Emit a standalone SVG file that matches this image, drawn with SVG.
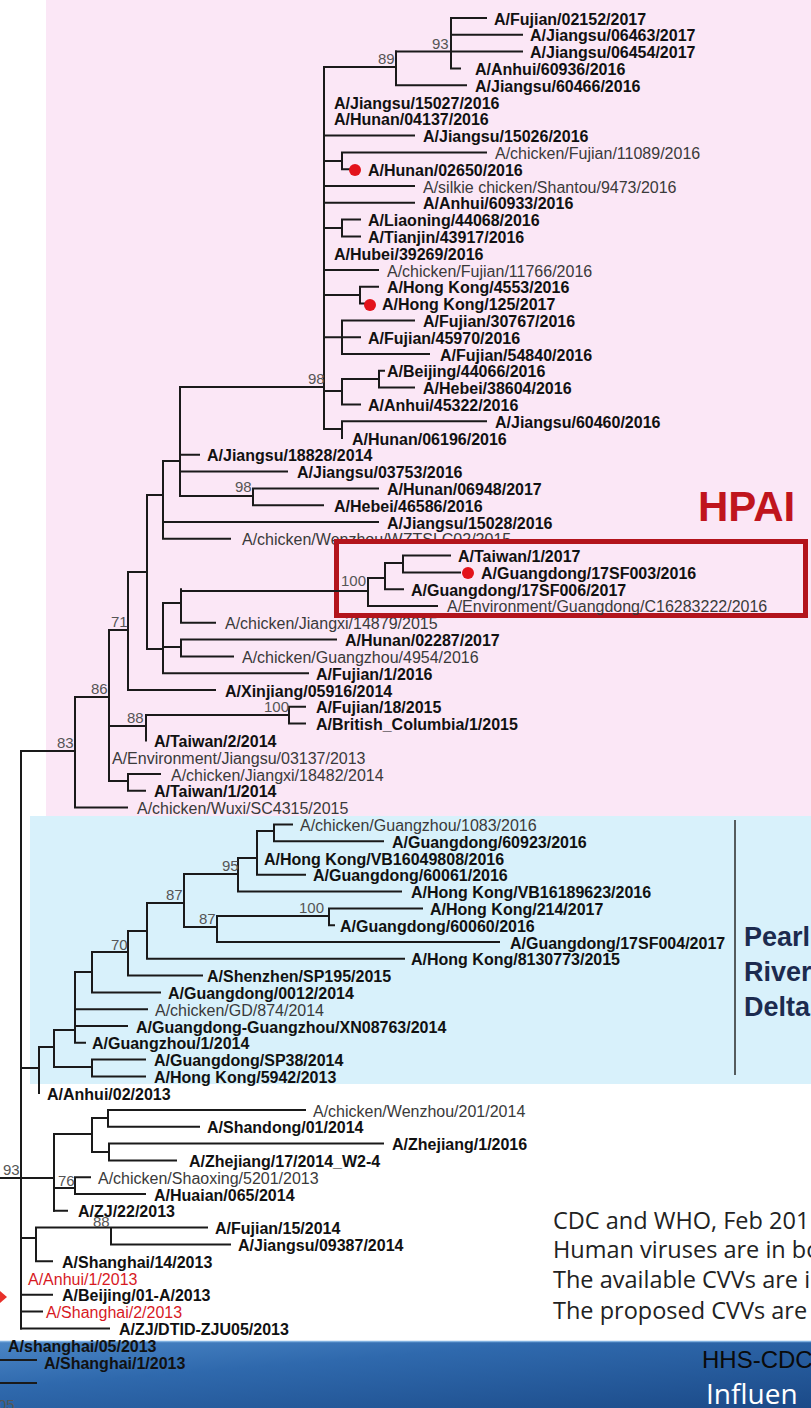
<svg xmlns="http://www.w3.org/2000/svg" width="811" height="1408" viewBox="0 0 811 1408">
<defs>
<linearGradient id="bannerFill" x1="0" y1="0" x2="1" y2="1">
<stop offset="0" stop-color="#4b86c6"/>
<stop offset="0.35" stop-color="#2f69ad"/>
<stop offset="1" stop-color="#1b4a88"/>
</linearGradient>
<style>
.b{font-family:"Liberation Sans",Arial,sans-serif;font-size:16px;font-weight:bold;fill:#111}
.n{font-family:"Liberation Sans",Arial,sans-serif;font-size:16px;fill:#3a3a3a}
.r{font-family:"Liberation Sans",Arial,sans-serif;font-size:16px;fill:#d7191f}
.bs{font-family:"Liberation Sans",Arial,sans-serif;font-size:15px;fill:#555}
.br{fill:none;stroke:#1a1a1a;stroke-width:2;stroke-linecap:square}
.dot{fill:#e3131b}
.note{font-family:"Open Sans","Noto Sans",sans-serif;font-size:23.5px;fill:#222}
.region{font-family:"Liberation Sans",Arial,sans-serif;font-size:27px;font-weight:bold;fill:#1c2b4f}
</style>
</defs>

<!-- backgrounds -->
<rect x="0" y="0" width="811" height="1408" fill="#ffffff"/>
<rect x="46" y="0" width="765" height="816" fill="#fbe7f6"/>
<rect x="30" y="816" width="781" height="268" fill="#d8f1fb"/>
<rect x="0" y="1341" width="811" height="67" fill="url(#bannerFill)"/>
<line x1="0" y1="1341.5" x2="811" y2="1341.5" stroke="#7fb0e0" stroke-width="1.5"/>

<!-- tree branches -->
<g id="branches" class="br">
<path d="M396 51.6H451M451 18V68.4M451 18H486M451 34.8H522M451 51.6H522M451 68.4H460"/>
<path d="M324 67H396M396 51.6V85.2M396 85.2H466"/>
<path d="M180 387H324M324 67V429"/>
<path d="M324 135.6H414"/>
<path d="M324 161H342M342 152.4V169.2M342 152.4H486M342 169.2H350"/>
<path d="M324 186H414M324 202.8H414"/>
<path d="M324 228H342M342 219.6V236.4M342 219.6H360M342 236.4H360"/>
<path d="M324 270H378"/>
<path d="M324 295H360M360 286.8V303.6M360 286.8H378M360 303.6H364"/>
<path d="M324 337.2H342M342 320.4V354M342 320.4H414M342 337.2H360M342 354H429"/>
<path d="M324 391H342M342 379V404.4M342 379H379M379 370.8V387.6M379 370.8H384M379 387.6H414M342 404.4H360"/>
<path d="M324 429H342M342 421.2V438M342 421.2H486"/>
<path d="M163 461H180M180 387V496M180 454.8H199M180 471.6H287M180 496H253M253 488.4V505.2M253 488.4H378M253 505.2H323"/>
<path d="M147 495H163M163 461V538.8M163 522H378M163 538.8H230"/>
<path d="M128 572H147M147 495V649M147 649H163"/>
<path d="M163 603V673.2M163 603H181M181 589.2V622.8M181 622.8H215M163 647H181M181 639.6V656.4M181 639.6H336M181 656.4H233M163 673.2H308"/>
<path d="M109 630H128M128 572V690M128 690H215"/>
<path d="M75 697H109M109 630V781M109 726H146M146 715V740.4M146 715H289M289 706.8V723.6M289 706.8H305M289 723.6H305M109 781H128M128 774V790.8M128 774H160M128 790.8H145"/>
<path d="M21 751H75M75 697V807.6M75 807.6H127"/>
<path d="M21 751V1328.4M0 1178H54"/>
<path d="M21 1068H39M39 1047V1093M39 1047H54M54 1030V1067M54 1030H75M54 1067H92M92 1059.6V1076.4M92 1059.6H145M92 1076.4H145"/>
<path d="M75 972V1042.8M75 972H92M75 1009.2H147M75 1026H127M75 1042.8H85"/>
<path d="M92 952V992.4M92 952H128M92 992.4H160"/>
<path d="M128 931V975.6M128 931H147M128 975.6H202"/>
<path d="M147 903V958.8M147 903H184M147 958.8H404"/>
<path d="M184 874V927M184 874H238M184 927H217"/>
<path d="M217 916V942M217 916H329M217 942H499"/>
<path d="M329 908.4V925.2M329 908.4H422M329 925.2H334"/>
<path d="M238 858V891.6M238 858H257M238 891.6H401"/>
<path d="M257 831V874.8M257 831H274M257 874.8H305"/>
<path d="M274 824.4V841.2M274 824.4H292M274 841.2H383"/>
<path d="M54 1134V1210.8M54 1134H92M92 1118V1152M92 1118H108M108 1110V1126.8M108 1110H305M108 1126.8H199M92 1152H109M109 1143.6V1160.4M109 1143.6H383M109 1160.4H176"/>
<path d="M54 1188H75M75 1177.2V1194M75 1177.2H90M75 1194H145M54 1210.8H67"/>
<path d="M21 1238H36M36 1227.6V1261.2M36 1227.6H111M111 1227.6V1244.4M111 1227.6H207M111 1244.4H230M36 1261.2H52"/>
<path d="M21 1294.8H52M21 1311.6H42M21 1328.4H109"/>
<path d="M0 1360H36M0 1383H36"/>
</g>

<!-- bootstrap support values -->
<g id="support">
<text class="bs" x="432" y="49">93</text>
<text class="bs" x="378" y="64">89</text>
<text class="bs" x="308" y="384">98</text>
<text class="bs" x="235" y="492">98</text>
<text class="bs" x="111" y="627">71</text>
<text class="bs" x="91" y="694">86</text>
<text class="bs" x="264" y="712">100</text>
<text class="bs" x="127" y="723">88</text>
<text class="bs" x="57" y="748">83</text>
<text class="bs" x="222" y="871">95</text>
<text class="bs" x="166" y="900">87</text>
<text class="bs" x="299" y="913">100</text>
<text class="bs" x="199" y="924">87</text>
<text class="bs" x="111" y="950">70</text>
<text class="bs" x="3" y="1175">93</text>
<text class="bs" x="58" y="1186">76</text>
<text class="bs" x="93" y="1227" font-size="13">88</text>
</g>

<!-- leaf labels -->
<g id="leaves">
<g id="l01"><text class="b" x="494" y="24.5">A/Fujian/02152/2017</text></g>
<g id="l02"><text class="b" x="530" y="41.3">A/Jiangsu/06463/2017</text></g>
<g id="l03"><text class="b" x="530" y="58.1">A/Jiangsu/06454/2017</text></g>
<g id="l04"><text class="b" x="475" y="74.9">A/Anhui/60936/2016</text></g>
<g id="l05"><text class="b" x="475" y="91.7">A/Jiangsu/60466/2016</text></g>
<g id="l06"><text class="b" x="334" y="108.5">A/Jiangsu/15027/2016</text></g>
<g id="l07"><text class="b" x="334" y="125.3">A/Hunan/04137/2016</text></g>
<g id="l08"><text class="b" x="423" y="142.1">A/Jiangsu/15026/2016</text></g>
<g id="l09"><text class="n" x="495" y="158.9">A/chicken/Fujian/11089/2016</text></g>
<g id="l10"><circle class="dot" cx="355" cy="170" r="6"/><text class="b" x="368" y="175.7">A/Hunan/02650/2016</text></g>
<g id="l11"><text class="n" x="423" y="192.5">A/silkie chicken/Shantou/9473/2016</text></g>
<g id="l12"><text class="b" x="423" y="209.3">A/Anhui/60933/2016</text></g>
<g id="l13"><text class="b" x="368" y="226.1">A/Liaoning/44068/2016</text></g>
<g id="l14"><text class="b" x="368" y="242.9">A/Tianjin/43917/2016</text></g>
<g id="l15"><text class="b" x="334" y="259.7">A/Hubei/39269/2016</text></g>
<g id="l16"><text class="n" x="387" y="276.5">A/chicken/Fujian/11766/2016</text></g>
<g id="l17"><text class="b" x="387" y="293.3">A/Hong Kong/4553/2016</text></g>
<g id="l18"><circle class="dot" cx="370" cy="305" r="6"/><text class="b" x="382" y="310.1">A/Hong Kong/125/2017</text></g>
<g id="l19"><text class="b" x="423" y="326.9">A/Fujian/30767/2016</text></g>
<g id="l20"><text class="b" x="368" y="343.7">A/Fujian/45970/2016</text></g>
<g id="l21"><text class="b" x="440" y="360.5">A/Fujian/54840/2016</text></g>
<g id="l22"><text class="b" x="387" y="377.3">A/Beijing/44066/2016</text></g>
<g id="l23"><text class="b" x="423" y="394.1">A/Hebei/38604/2016</text></g>
<g id="l24"><text class="b" x="368" y="410.9">A/Anhui/45322/2016</text></g>
<g id="l25"><text class="b" x="495" y="427.7">A/Jiangsu/60460/2016</text></g>
<g id="l26"><text class="b" x="352" y="444.5">A/Hunan/06196/2016</text></g>
<g id="l27"><text class="b" x="207" y="461.3">A/Jiangsu/18828/2014</text></g>
<g id="l28"><text class="b" x="297" y="478.1">A/Jiangsu/03753/2016</text></g>
<g id="l29"><text class="b" x="387" y="494.9">A/Hunan/06948/2017</text></g>
<g id="l30"><text class="b" x="334" y="511.7">A/Hebei/46586/2016</text></g>
<g id="l31"><text class="b" x="387" y="528.5">A/Jiangsu/15028/2016</text></g>
<g id="l32"><text class="n" x="242" y="545.3">A/chicken/Wenzhou/WZTSLC02/2015</text></g>
<g id="l37"><text class="n" x="225" y="629.3">A/chicken/Jiangxi/14879/2015</text></g>
<g id="l38"><text class="b" x="345" y="646.1">A/Hunan/02287/2017</text></g>
<g id="l39"><text class="n" x="242" y="662.9">A/chicken/Guangzhou/4954/2016</text></g>
<g id="l40"><text class="b" x="316" y="679.7">A/Fujian/1/2016</text></g>
<g id="l41"><text class="b" x="225" y="696.5">A/Xinjiang/05916/2014</text></g>
<g id="l42"><text class="b" x="316" y="713.3">A/Fujian/18/2015</text></g>
<g id="l43"><text class="b" x="316" y="730.1">A/British_Columbia/1/2015</text></g>
<g id="l44"><text class="b" x="154" y="746.9">A/Taiwan/2/2014</text></g>
<g id="l45"><text class="n" x="112" y="763.7">A/Environment/Jiangsu/03137/2013</text></g>
<g id="l46"><text class="n" x="171" y="780.5">A/chicken/Jiangxi/18482/2014</text></g>
<g id="l47"><text class="b" x="154" y="797.3">A/Taiwan/1/2014</text></g>
<g id="l48"><text class="n" x="137" y="814.1">A/chicken/Wuxi/SC4315/2015</text></g>
<g id="l49"><text class="n" x="300" y="830.9">A/chicken/Guangzhou/1083/2016</text></g>
<g id="l50"><text class="b" x="392" y="847.7">A/Guangdong/60923/2016</text></g>
<g id="l51"><text class="b" x="264" y="864.5">A/Hong Kong/VB16049808/2016</text></g>
<g id="l52"><text class="b" x="313" y="881.3">A/Guangdong/60061/2016</text></g>
<g id="l53"><text class="b" x="411" y="898.1">A/Hong Kong/VB16189623/2016</text></g>
<g id="l54"><text class="b" x="430" y="914.9">A/Hong Kong/214/2017</text></g>
<g id="l55"><text class="b" x="340" y="931.7">A/Guangdong/60060/2016</text></g>
<g id="l56"><text class="b" x="510" y="948.5">A/Guangdong/17SF004/2017</text></g>
<g id="l57"><text class="b" x="411" y="965.3">A/Hong Kong/8130773/2015</text></g>
<g id="l58"><text class="b" x="207" y="982.1">A/Shenzhen/SP195/2015</text></g>
<g id="l59"><text class="b" x="168" y="998.9">A/Guangdong/0012/2014</text></g>
<g id="l60"><text class="n" x="155" y="1015.7">A/chicken/GD/874/2014</text></g>
<g id="l61"><text class="b" x="136" y="1032.5">A/Guangdong-Guangzhou/XN08763/2014</text></g>
<g id="l62"><text class="b" x="92" y="1049.3">A/Guangzhou/1/2014</text></g>
<g id="l63"><text class="b" x="154" y="1066.1">A/Guangdong/SP38/2014</text></g>
<g id="l64"><text class="b" x="154" y="1082.9">A/Hong Kong/5942/2013</text></g>
<g id="l65"><text class="b" x="47" y="1099.7">A/Anhui/02/2013</text></g>
<g id="l66"><text class="n" x="313" y="1116.5">A/chicken/Wenzhou/201/2014</text></g>
<g id="l67"><text class="b" x="207" y="1133.3">A/Shandong/01/2014</text></g>
<g id="l68"><text class="b" x="392" y="1150.1">A/Zhejiang/1/2016</text></g>
<g id="l69"><text class="b" x="189" y="1166.9">A/Zhejiang/17/2014_W2-4</text></g>
<g id="l70"><text class="n" x="98" y="1183.7">A/chicken/Shaoxing/5201/2013</text></g>
<g id="l71"><text class="b" x="154" y="1200.5">A/Huaian/065/2014</text></g>
<g id="l72"><text class="b" x="78" y="1216.5">A/ZJ/22/2013</text></g>
<g id="l73"><text class="b" x="215" y="1234.1">A/Fujian/15/2014</text></g>
<g id="l74"><text class="b" x="238" y="1250.9">A/Jiangsu/09387/2014</text></g>
<g id="l75"><text class="b" x="62" y="1267.7">A/Shanghai/14/2013</text></g>
<g id="l76"><text class="r" x="28" y="1284.5">A/Anhui/1/2013</text></g>
<g id="l77"><text class="b" x="62" y="1301.3">A/Beijing/01-A/2013</text></g>
<g id="l78"><text class="r" x="46" y="1318.1">A/Shanghai/2/2013</text></g>
<g id="l79"><text class="b" x="119" y="1334.9">A/ZJ/DTID-ZJU05/2013</text></g>
<g id="l80"><text class="b" x="8" y="1351.7">A/shanghai/05/2013</text></g>
<g id="l81"><text class="b" x="44" y="1368.5">A/Shanghai/1/2013</text></g>
<text class="bs" x="-2" y="1410" fill="#222">05</text>
</g>

<!-- highlighted HPAI subclade box, drawn over the labels it overlaps -->
<g id="hpai-box">
<rect x="336.5" y="541.5" width="469" height="74" fill="#fbe7f6" stroke="#b3141c" stroke-width="5"/>
<path class="br" d="M181 591H368M368 578V606M368 578H385M385 563V589.2M385 563H403M403 555.6V572.4M403 555.6H450M403 572.4H460M385 589.2H403M368 606H437"/>
<text class="bs" x="341" y="586">100</text>
<g id="l33"><text class="b" x="458" y="562.1">A/Taiwan/1/2017</text></g>
<g id="l34"><circle class="dot" cx="468" cy="573" r="6"/><text class="b" x="481" y="578.9">A/Guangdong/17SF003/2016</text></g>
<g id="l35"><text class="b" x="411" y="595.7">A/Guangdong/17SF006/2017</text></g>
<g id="l36"><text class="n" x="447" y="611.5">A/Environment/Guangdong/C16283222/2016</text></g>
</g>

<!-- region annotations -->
<g id="hpai-label"><text x="698" y="521" font-family="Liberation Sans, Arial, sans-serif" font-size="42" font-weight="bold" fill="#c0151d">HPAI</text></g>
<g id="prd-label">
<line x1="735" y1="820" x2="735" y2="1075" stroke="#2a2a2a" stroke-width="1.5"/>
<text class="region" x="744" y="946">Pearl</text>
<text class="region" x="744" y="981">River</text>
<text class="region" x="744" y="1016">Delta</text>
</g>

<!-- marker arrow at the left margin -->
<polygon points="0,1291 7,1297 0,1303" fill="#e8302a"/>

<!-- legend notes -->
<g id="legend">
<text class="note" x="553" y="1229">CDC and WHO, Feb 201</text>
<text class="note" x="553" y="1258">Human viruses are in bo</text>
<text class="note" x="553" y="1288">The available CVVs are i</text>
<text class="note" x="553" y="1319">The proposed CVVs are</text>
</g>

<!-- footer banner text -->
<g id="footer">
<text x="702" y="1368" font-family="Liberation Sans, Arial, sans-serif" font-size="24" fill="#0a0a0a">HHS-CDC</text>
<text x="706" y="1404" font-family="Open Sans, Noto Sans, sans-serif" font-size="28" fill="#ffffff">Influen</text>
</g>
</svg>
